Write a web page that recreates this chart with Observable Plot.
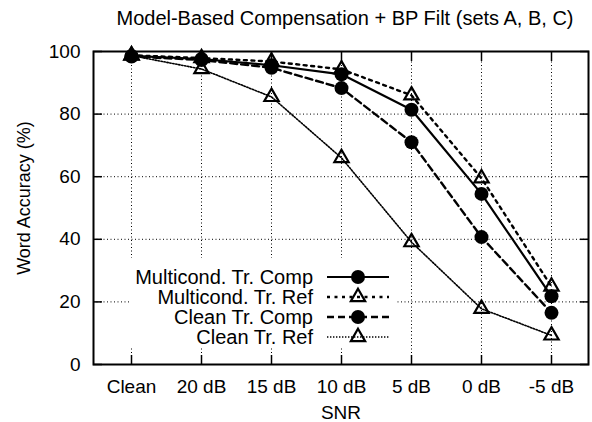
<!DOCTYPE html>
<html>
<head>
<meta charset="utf-8">
<script src="https://cdn.jsdelivr.net/npm/d3@7"></script>
<script src="https://cdn.jsdelivr.net/npm/@observablehq/plot@0.6"></script>
<style>
  body { margin: 0; background: #fff; }
  #wrap { position: relative; width: 592px; height: 422px; font-family: "Liberation Sans", Arial, sans-serif; }
  #title { position: absolute; top: 7px; left: 95px; width: 500px; text-align: center; font-size: 20px; color: #000; white-space: nowrap; }
  #ylab { position: absolute; left: 24px; top: 198px; transform: translate(-50%, -50%) rotate(-90deg); font-size: 18px; white-space: nowrap; color: #000; }
  #chart { position: absolute; left: 0; top: 0; }
</style>
</head>
<body>
<div id="wrap">
  <div id="chart"></div>
  <div id="title">Model-Based Compensation + BP Filt (sets A, B, C)</div>
  <div id="ylab">Word Accuracy (%)</div>
</div>
<script>
const categories = ["Clean", "20 dB", "15 dB", "10 dB", "5 dB", "0 dB", "-5 dB"];
const yTicks = [0, 20, 40, 60, 80, 100];
const seriesNames = ["Multicond. Tr. Comp", "Multicond. Tr. Ref", "Clean Tr. Comp", "Clean Tr. Ref"];
const multiComp = [98.6, 97.6, 95.6, 92.7, 81.4, 54.5, 21.8];
const multiRef  = [98.8, 97.9, 96.8, 94.3, 86.0, 59.5, 24.9];
const cleanComp = [98.4, 97.3, 94.8, 88.3, 71.0, 40.7, 16.5];
const cleanRef  = [98.7, 94.4, 85.5, 66.0, 39.1, 17.8, 9.3];

const styles = [
  {dash: null, width: 2.2, symbol: "circle", fill: "black", r: 7},
  {dash: "3,4.5", width: 2.4, symbol: "triangle", fill: "none", r: 5.3},
  {dash: "7,4", width: 2.4, symbol: "circle", fill: "black", r: 7},
  {dash: "1.4,1.6", width: 1.6, symbol: "triangle", fill: "none", r: 5.3}
];
const allValues = [multiComp, multiRef, cleanComp, cleanRef];
const tables = allValues.map((vals, i) => categories.map((c, j) => ({snr: c, acc: vals[j], series: seriesNames[i]})));

const marks = [
  Plot.gridX(categories, {stroke: "black", strokeOpacity: 1, strokeWidth: 1, strokeDasharray: "1,2.5"}),
  Plot.gridY(yTicks.filter(v => v > 0 && v < 100), {stroke: "black", strokeOpacity: 1, strokeWidth: 1, strokeDasharray: "1,2.5"}),
  Plot.axisY(yTicks, {anchor: "left", tickSize: -9, text: null, label: null, strokeWidth: 1.5}),
  Plot.axisY(yTicks, {anchor: "right", tickSize: -9, text: null, label: null, strokeWidth: 1.5}),
  Plot.axisY(yTicks, {anchor: "left", tickSize: 0, tickPadding: 13, fontSize: 19, label: null}),
  Plot.axisX(categories, {anchor: "bottom", tickSize: -9, text: null, label: null, strokeWidth: 1.5}),
  Plot.axisX(categories, {anchor: "top", tickSize: -9, text: null, label: null, strokeWidth: 1.5}),
  Plot.axisX(categories, {anchor: "bottom", tickSize: 0, tickPadding: 15, fontSize: 19, label: "SNR", labelAnchor: "center", labelOffset: 54, labelArrow: "none"})
];
tables.forEach((t, i) => {
  const s = styles[i];
  marks.push(Plot.line(t, {x: "snr", y: "acc", stroke: "black", strokeWidth: s.width, strokeDasharray: s.dash}));
});
tables.forEach((t, i) => {
  const s = styles[i];
  marks.push(Plot.dot(t, {x: "snr", y: "acc", symbol: s.symbol, r: s.r, fill: s.fill, stroke: "black", strokeWidth: s.fill === "none" ? 2.2 : 0}));
});
marks.push(Plot.frame({stroke: "black", strokeWidth: 2}));

const chart = Plot.plot({
  width: 592,
  height: 422,
  marginTop: 51,
  marginBottom: 58,
  marginLeft: 93,
  marginRight: 4,
  style: {fontFamily: "Liberation Sans, Arial, sans-serif", fontSize: "19px", color: "black", background: "white"},
  x: {type: "point", domain: categories, padding: 0.5},
  y: {domain: [0, 100]},
  marks
});
document.getElementById("chart").appendChild(chart);

const svg = d3.select(chart);
// enforce text sizes on axis labels
svg.selectAll("g[aria-label='x-axis tick label'] text, g[aria-label='y-axis tick label'] text")
  .style("font-size", "19px").style("font-family", "Liberation Sans, Arial, sans-serif");
svg.selectAll("g[aria-label='x-axis label'] text")
  .style("font-size", "19px").style("font-family", "Liberation Sans, Arial, sans-serif");

// legend (drawn inside the SVG over the grid)
const lg = svg.append("g").attr("font-family", "Liberation Sans, Arial, sans-serif").attr("font-size", 20);
lg.append("rect").attr("x", 130).attr("y", 258).attr("width", 266).attr("height", 89).attr("fill", "white");
seriesNames.forEach((name, i) => {
  const s = styles[i];
  const y = 277 + i * 20;
  lg.append("text").attr("x", 313).attr("y", y).attr("dy", "0.35em").attr("text-anchor", "end").attr("fill", "black").text(name);
  lg.append("line").attr("x1", 327).attr("x2", 389).attr("y1", y).attr("y2", y)
    .attr("stroke", "black").attr("stroke-width", s.width).attr("stroke-dasharray", s.dash);
  const sym = d3.symbol(s.symbol === "circle" ? d3.symbolCircle : d3.symbolTriangle, s.r * s.r * Math.PI);
  lg.append("path").attr("d", sym()).attr("transform", `translate(358,${y})`)
    .attr("fill", s.fill).attr("stroke", "black").attr("stroke-width", s.fill === "none" ? 2.2 : 0);
});
</script>
</body>
</html>
